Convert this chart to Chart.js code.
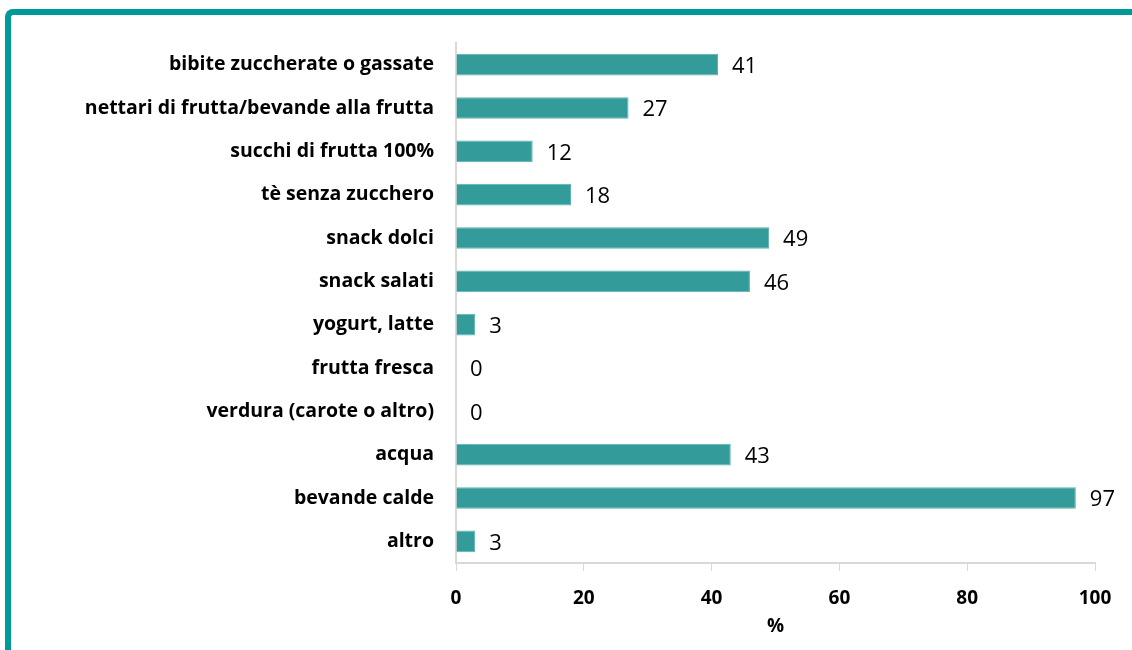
<!DOCTYPE html>
<html><head><meta charset="utf-8">
<script src="https://cdn.jsdelivr.net/npm/chart.js@4/dist/chart.umd.min.js"></script>
<style>
html,body{margin:0;padding:0;background:#fff;overflow:hidden;}
#frame{position:absolute;left:5px;top:9px;width:1200px;height:700px;border-left:6px solid #009999;border-top:6px solid #009999;border-top-left-radius:8px;box-sizing:border-box;}
#wrap{position:absolute;left:0;top:0;width:1132px;height:650px;}
</style></head>
<body>
<div id="frame"></div>
<div id="wrap"><canvas id="c"></canvas></div>
<script>
const categories = ["bibite zuccherate o gassate","nettari di frutta/bevande alla frutta","succhi di frutta 100%","tè senza zucchero","snack dolci","snack salati","yogurt, latte","frutta fresca","verdura (carote o altro)","acqua","bevande calde","altro"];
const values = [41,27,12,18,49,46,3,0,0,43,97,3];
const xTicks = [0,20,40,60,80,100];
const xTitle = "%";

const FONT = '"Open Sans", sans-serif';
const labelPlugin = {
  id:'vals',
  afterDatasetsDraw(chart){
    const ctx = chart.ctx, xs = chart.scales.x, ys = chart.scales.y;
    ctx.save();
    ctx.font = '22px ' + FONT;
    ctx.fillStyle = '#000';
    ctx.textBaseline = 'middle';
    ctx.textAlign = 'left';
    values.forEach((v,i)=>{
      ctx.fillText(String(v), xs.getPixelForValue(v)+14, ys.getPixelForValue(i)+2);
    });
    ctx.restore();
  }
};

new Chart(document.getElementById('c'),{
  type:'bar',
  data:{labels:categories,datasets:[{data:values,backgroundColor:'#339b99',borderColor:'#5bb3b0',borderWidth:1,barPercentage:0.5,categoryPercentage:1}]},
  options:{
    indexAxis:'y',responsive:true,maintainAspectRatio:false,animation:false,
    layout:{padding:{left:0,top:43,right:37,bottom:0}},
    plugins:{legend:{display:false},tooltip:{enabled:false}},
    scales:{
      x:{min:0,max:100,
        afterBuildTicks(s){s.ticks=xTicks.map(v=>({value:v}));},
        afterFit(s){s.height=87;},
        grid:{display:true,drawOnChartArea:false,drawTicks:true,tickLength:8,color:'#d9d9d9'},
        border:{display:true,color:'#d9d9d9',width:2},
        ticks:{color:'#000',font:{family:FONT,size:19,weight:'bold'},padding:16},
        title:{display:true,text:xTitle,color:'#000',font:{family:FONT,size:19,weight:'bold'},padding:{top:2,bottom:12}}
      },
      y:{
        afterFit(s){s.width=456;},
        grid:{display:false},
        border:{display:true,color:'#d9d9d9',width:2},
        ticks:{color:'#000',font:{family:FONT,size:19.5,weight:'bold'},padding:14}
      }
    }
  },
  plugins:[labelPlugin]
});
</script>
</body></html>
